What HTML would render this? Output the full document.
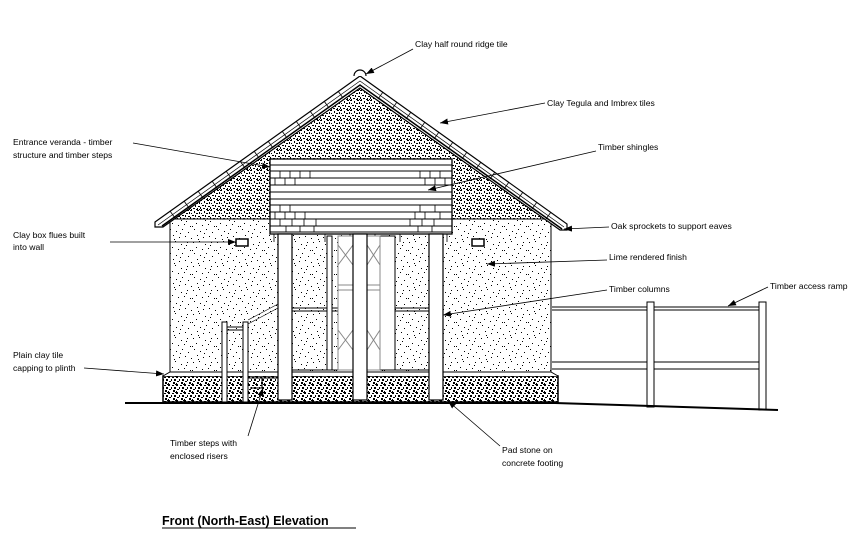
<!DOCTYPE html>
<html><head><meta charset="utf-8"><style>
html,body{margin:0;padding:0;background:#fff}
svg{display:block}
text{font-family:"Liberation Sans",sans-serif;font-size:8.6px;fill:#000}
</style></head><body>
<svg width="858" height="554" viewBox="0 0 858 554" xmlns="http://www.w3.org/2000/svg">
<defs>
<pattern id="sp" width="24" height="24" patternUnits="userSpaceOnUse">
<rect width="24" height="24" fill="#fff"/>
<g fill="#000">
<rect x="1" y="2" width="1" height="1"/><rect x="7" y="1" width="1" height="1"/><rect x="13" y="4" width="1" height="1"/><rect x="19" y="2" width="1" height="1"/>
<rect x="4" y="7" width="1" height="1"/><rect x="10" y="9" width="1" height="1"/><rect x="16" y="8" width="1" height="1"/><rect x="22" y="10" width="1" height="1"/>
<rect x="2" y="13" width="1" height="1"/><rect x="8" y="15" width="1" height="1"/><rect x="14" y="13" width="1" height="1"/><rect x="20" y="16" width="1" height="1"/>
<rect x="5" y="19" width="1" height="1"/><rect x="11" y="21" width="1" height="1"/><rect x="17" y="20" width="1" height="1"/><rect x="23" y="22" width="1" height="1"/>
<rect x="0" y="10" width="1" height="1"/><rect x="12" y="17" width="1" height="1"/><rect x="18" y="5" width="1" height="1"/><rect x="6" y="23" width="1" height="1"/>
</g></pattern>
<pattern id="dp" width="10" height="10" patternUnits="userSpaceOnUse">
<rect width="10" height="10" fill="#fff"/>
<g fill="#000">
<rect x="0" y="0" width="2" height="1"/><rect x="4" y="1" width="1" height="2"/><rect x="7" y="0" width="2" height="1"/>
<rect x="1" y="3" width="1" height="1"/><rect x="6" y="3" width="2" height="1"/><rect x="9" y="2" width="1" height="2"/>
<rect x="2" y="5" width="2" height="1"/><rect x="5" y="5" width="1" height="2"/><rect x="8" y="6" width="2" height="1"/>
<rect x="0" y="7" width="1" height="2"/><rect x="3" y="8" width="2" height="1"/><rect x="7" y="8" width="1" height="1"/>
<rect x="1" y="9" width="1" height="1"/><rect x="6" y="9" width="2" height="1"/><rect x="9" y="9" width="1" height="1"/>
</g></pattern>
<pattern id="pp" width="8" height="8" patternUnits="userSpaceOnUse">
<rect width="8" height="8" fill="#fff"/>
<g fill="#000">
<rect x="0" y="0" width="2" height="2"/><rect x="4" y="1" width="2" height="1"/><rect x="3" y="3" width="1" height="2"/>
<rect x="6" y="3" width="2" height="2"/><rect x="1" y="5" width="2" height="1"/><rect x="5" y="6" width="2" height="2"/>
<rect x="0" y="7" width="1" height="1"/><rect x="7" y="0" width="1" height="1"/>
</g></pattern>
<marker id="ar" markerWidth="8" markerHeight="6" refX="8" refY="3" orient="auto" markerUnits="userSpaceOnUse">
<path d="M0,0 L8,3 L0,6 z" fill="#000"/></marker>
</defs>

<g stroke="#000" stroke-width="1" fill="none">
<polygon points="170,219 360,84 551,219" fill="url(#dp)" stroke="none"/>
<rect x="170" y="219" width="381" height="153" fill="url(#sp)"/>
<rect x="163" y="376" width="395" height="26" fill="url(#pp)" stroke-width="1.5"/>
<path d="M163,376 L170,372 L551,372 L558,376" fill="#fff"/>
<polygon points="155,222 360,76 567,224 567,230 560,230 360,88 163,227 155,227" fill="#fff" stroke-width="1.2"/>
<path d="M158,225 L360,81 L564,227" stroke-width="0.7"/>
<path d="M162,226 L360,85 L562,229" stroke-width="1.5"/>
<g stroke-width="0.8">
<path d="M170,211 l5,7 M184,201 l5,7 M198,191 l5,7 M212,181 l5,7 M226,171 l5,7 M240,161 l5,7 M254,151 l5,7 M268,141 l5,7 M282,131 l5,7 M296,121 l5,7 M310,111 l5,7 M324,101 l5,7 M338,91 l5,7"/>
<path d="M551,212 l-5,7 M537,202 l-5,7 M523,192 l-5,7 M509,182 l-5,7 M495,172 l-5,7 M481,162 l-5,7 M467,152 l-5,7 M453,142 l-5,7 M439,132 l-5,7 M425,122 l-5,7 M411,112 l-5,7 M397,102 l-5,7 M383,92 l-5,7"/>
</g>
<path d="M354,76 A6,6 0 0 1 366,76" fill="#fff" stroke-width="1.2"/>
<rect x="270" y="159" width="182" height="75" fill="#fff" stroke-width="1.3"/>
<path d="M270,165H452 M270,171H452 M270,178H452 M270,185H452 M270,192H452 M270,199H452 M270,205H452 M270,212H452 M270,219H452 M270,226H452 M270,232H452" stroke-width="0.9"/>
<path d="M280,171v7 M290,171v7 M300,171v7 M310,171v7 M420,171v7 M430,171v7 M440,171v7 M275,178v7 M285,178v7 M295,178v7 M425,178v7 M435,178v7 M445,178v7 M280,205v7 M290,205v7 M420,205v7 M435,205v7 M275,212v7 M285,212v7 M295,212v7 M305,212v7 M415,212v7 M425,212v7 M440,212v7 M280,219v7 M292,219v7 M304,219v7 M316,219v7 M410,219v7 M422,219v7 M434,219v7 M286,226v6 M300,226v6 M314,226v6 M418,226v6 M432,226v6" stroke-width="0.8"/>
<path d="M274,234v8 M325,234v8 M350,234v8 M375,234v8 M400,234v8 M447,234v8" stroke-width="0.8"/>
<path d="M292,308H429 M292,311H429 M292,370H429"/>
<rect x="327" y="236" width="5" height="134" fill="#fff"/>
<rect x="380" y="236" width="15" height="134" fill="#fff"/>
<rect x="338" y="236" width="15" height="134" fill="#fff" stroke="#888"/>
<rect x="367" y="236" width="13" height="134" fill="#fff" stroke="#888"/>
<path d="M338,245 l15,20 M353,245 l-15,20 M367,245 l13,20 M380,245 l-13,20 M338,330 l15,20 M353,330 l-15,20 M367,330 l13,20 M380,330 l-13,20 M338,285H353 M338,290H353 M367,285H380 M367,290H380" stroke="#888"/>
<rect x="278" y="234" width="14" height="166" fill="#fff" stroke-width="1.2"/>
<rect x="353" y="234" width="14" height="166" fill="#fff" stroke-width="1.2"/>
<rect x="429" y="234" width="14" height="166" fill="#fff" stroke-width="1.2"/>
<rect x="236" y="239" width="12" height="7" stroke-width="1.5" fill="#fff"/>
<rect x="472" y="239" width="12" height="7" stroke-width="1.5" fill="#fff"/>
<rect x="222" y="322" width="5" height="80" fill="#fff"/>
<rect x="243" y="322" width="5" height="80" fill="#fff"/>
<path d="M227,327H243 M227,330H243"/>
<path d="M248,320 L278,304 M248,324 L278,308" stroke-width="0.6"/>
<path d="M248,378H278 M262,378v10H250"/>
<path d="M552,307H759 M552,310H759 M552,362H759 M552,369H759"/>
<rect x="647" y="302" width="7" height="105" fill="#fff"/>
<rect x="759" y="302" width="7" height="108" fill="#fff"/>
<path d="M125,403 L555,403 L778,410" stroke-width="2"/>
</g>

<g stroke="#000" stroke-width="0.8" fill="none" marker-end="url(#ar)">
<path d="M413,49 L366,74"/>
<path d="M545,103 L440,123"/>
<path d="M133,143 L270,167"/>
<path d="M596,151 L428,190"/>
<path d="M110,242 L236,242"/>
<path d="M609,227 L564,229"/>
<path d="M607,260 L487,264"/>
<path d="M607,290 L443,315"/>
<path d="M768,287 L728,306"/>
<path d="M84,368 L164,374"/>
<path d="M248,436 L263,388"/>
<path d="M500,446 L448,401"/>
</g>

<text x="415" y="47">Clay half round ridge tile</text>
<text x="547" y="106">Clay Tegula and Imbrex tiles</text>
<text x="13" y="145">Entrance veranda - timber</text>
<text x="13" y="158">structure and timber steps</text>
<text x="598" y="150">Timber shingles</text>
<text x="13" y="238">Clay box flues built</text>
<text x="13" y="250">into wall</text>
<text x="611" y="229">Oak sprockets to support eaves</text>
<text x="609" y="260">Lime rendered finish</text>
<text x="609" y="292">Timber columns</text>
<text x="770" y="289">Timber access ramp</text>
<text x="13" y="358">Plain clay tile</text>
<text x="13" y="371">capping to plinth</text>
<text x="170" y="446">Timber steps with</text>
<text x="170" y="459">enclosed risers</text>
<text x="502" y="453">Pad stone on</text>
<text x="502" y="466">concrete footing</text>
<text x="162" y="525" style="font-size:12.5px;font-weight:bold">Front (North-East) Elevation</text>
<line x1="162" y1="528" x2="356" y2="528" stroke="#000" stroke-width="1"/>
</svg>
</body></html>
